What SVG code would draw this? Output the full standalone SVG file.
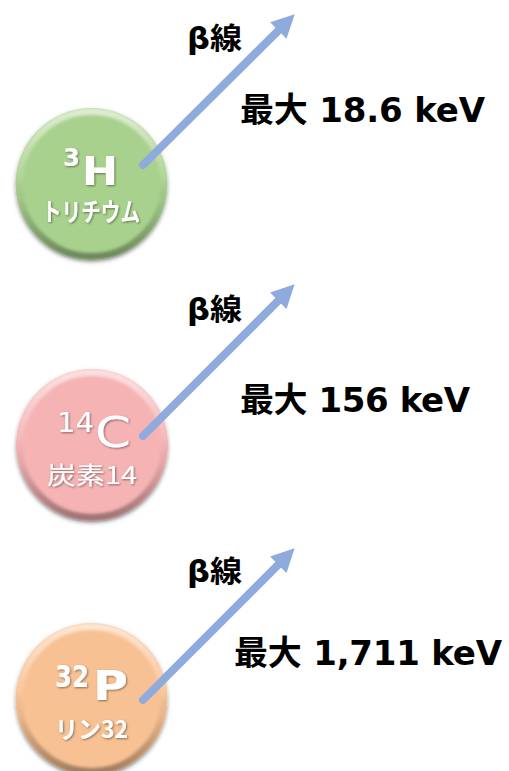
<svg xmlns="http://www.w3.org/2000/svg" width="509" height="771" viewBox="0 0 509 771">
<style>
.lbl{font-family:"DejaVu Sans","Noto Sans CJK JP",sans-serif;font-weight:bold;fill:#000}
.beta{font-size:30px}
.energy{font-size:34px}
.nm{font-family:"DejaVu Sans","Noto Sans CJK JP",sans-serif;fill:#fff}
.sub{font-family:"Noto Sans CJK JP","DejaVu Sans",sans-serif;fill:#fff}
.txtsh{filter:url(#tsh)}
.arrow{stroke:#8faadc;stroke-width:8;stroke-linecap:round;fill:none}
.bevel{fill:none;stroke:url(#bev);stroke-width:7;filter:url(#blur)}
</style>
<defs>
<linearGradient id="bev" x1="0" y1="0" x2="0" y2="1">
<stop offset="0" stop-color="#fff" stop-opacity="0.6"/>
<stop offset="0.45" stop-color="#fff" stop-opacity="0.1"/>
<stop offset="0.6" stop-color="#000" stop-opacity="0.05"/>
<stop offset="1" stop-color="#000" stop-opacity="0.35"/>
</linearGradient>
<filter id="blur" x="-10%" y="-10%" width="120%" height="120%">
<feGaussianBlur stdDeviation="1.5"/>
</filter>
<filter id="sh" x="-20%" y="-20%" width="140%" height="140%">
<feDropShadow dx="0" dy="2" stdDeviation="2" flood-color="#000" flood-opacity="0.35"/>
</filter>
<filter id="tsh" x="-10%" y="-10%" width="130%" height="130%">
<feDropShadow dx="1" dy="1" stdDeviation="0.8" flood-color="#000" flood-opacity="0.45"/>
</filter>
<marker id="ah" viewBox="0 0 10 10" refX="0" refY="5" markerWidth="3.1" markerHeight="2.9" orient="auto" markerUnits="strokeWidth">
<path d="M0,0 L10,5 L0,10 z" fill="#8faadc"/>
</marker>
</defs>

<g id="node-h3">
<circle cx="91.5" cy="184" r="76" fill="#a9d18e" filter="url(#sh)"/>
<circle class="bevel" cx="91.5" cy="184" r="72.5"/>
<g class="txtsh">
<text class="nm" font-weight="bold"><tspan x="63" y="166" font-size="25" textLength="17" lengthAdjust="spacingAndGlyphs">3</tspan><tspan x="82" y="185" font-size="39" textLength="36" lengthAdjust="spacingAndGlyphs">H</tspan></text>
<text class="sub" x="42" y="221" font-size="25" font-weight="bold" textLength="98" lengthAdjust="spacingAndGlyphs">トリチウム</text>
</g>
</g>

<g id="node-c14">
<circle cx="92" cy="445" r="76" fill="#f5b3b4" filter="url(#sh)"/>
<circle class="bevel" cx="92" cy="445" r="72.5"/>
<g class="txtsh">
<text class="nm"><tspan x="57" y="432" font-size="27" textLength="37" lengthAdjust="spacingAndGlyphs">14</tspan><tspan x="95" y="447" font-size="42" textLength="36" lengthAdjust="spacingAndGlyphs">C</tspan></text>
<text class="sub" x="47" y="484" font-size="24" textLength="90" lengthAdjust="spacingAndGlyphs">炭素14</text>
</g>
</g>

<g id="node-p32">
<circle cx="91.5" cy="699" r="76" fill="#f8c193" filter="url(#sh)"/>
<circle class="bevel" cx="91.5" cy="699" r="72.5"/>
<g class="txtsh">
<text class="nm" font-weight="bold"><tspan x="55" y="687" font-size="30" textLength="34" lengthAdjust="spacingAndGlyphs">32</tspan><tspan x="93" y="700" font-size="41" textLength="35" lengthAdjust="spacingAndGlyphs">P</tspan></text>
<text class="sub" x="55" y="738" font-size="24" font-weight="bold" textLength="73" lengthAdjust="spacingAndGlyphs">リン32</text>
</g>
</g>

<g id="connectors">
<line class="arrow" x1="143" y1="165" x2="278.3" y2="30.6" marker-end="url(#ah)"/>
<line class="arrow" x1="143" y1="436" x2="278.3" y2="300.7" marker-end="url(#ah)"/>
<line class="arrow" x1="143" y1="700" x2="278.3" y2="564.7" marker-end="url(#ah)"/>
</g>

<g id="labels">
<text class="lbl beta" x="187" y="49" textLength="55" lengthAdjust="spacingAndGlyphs">β線</text>
<text class="lbl energy" x="240" y="122" textLength="245" lengthAdjust="spacing">最大 18.6 keV</text>
<text class="lbl beta" x="187" y="320" textLength="55" lengthAdjust="spacingAndGlyphs">β線</text>
<text class="lbl energy" x="240" y="412" textLength="230" lengthAdjust="spacing">最大 156 keV</text>
<text class="lbl beta" x="187" y="582" textLength="55" lengthAdjust="spacingAndGlyphs">β線</text>
<text class="lbl energy" x="234" y="665" textLength="268" lengthAdjust="spacing">最大 1,711 keV</text>
</g>
</svg>
